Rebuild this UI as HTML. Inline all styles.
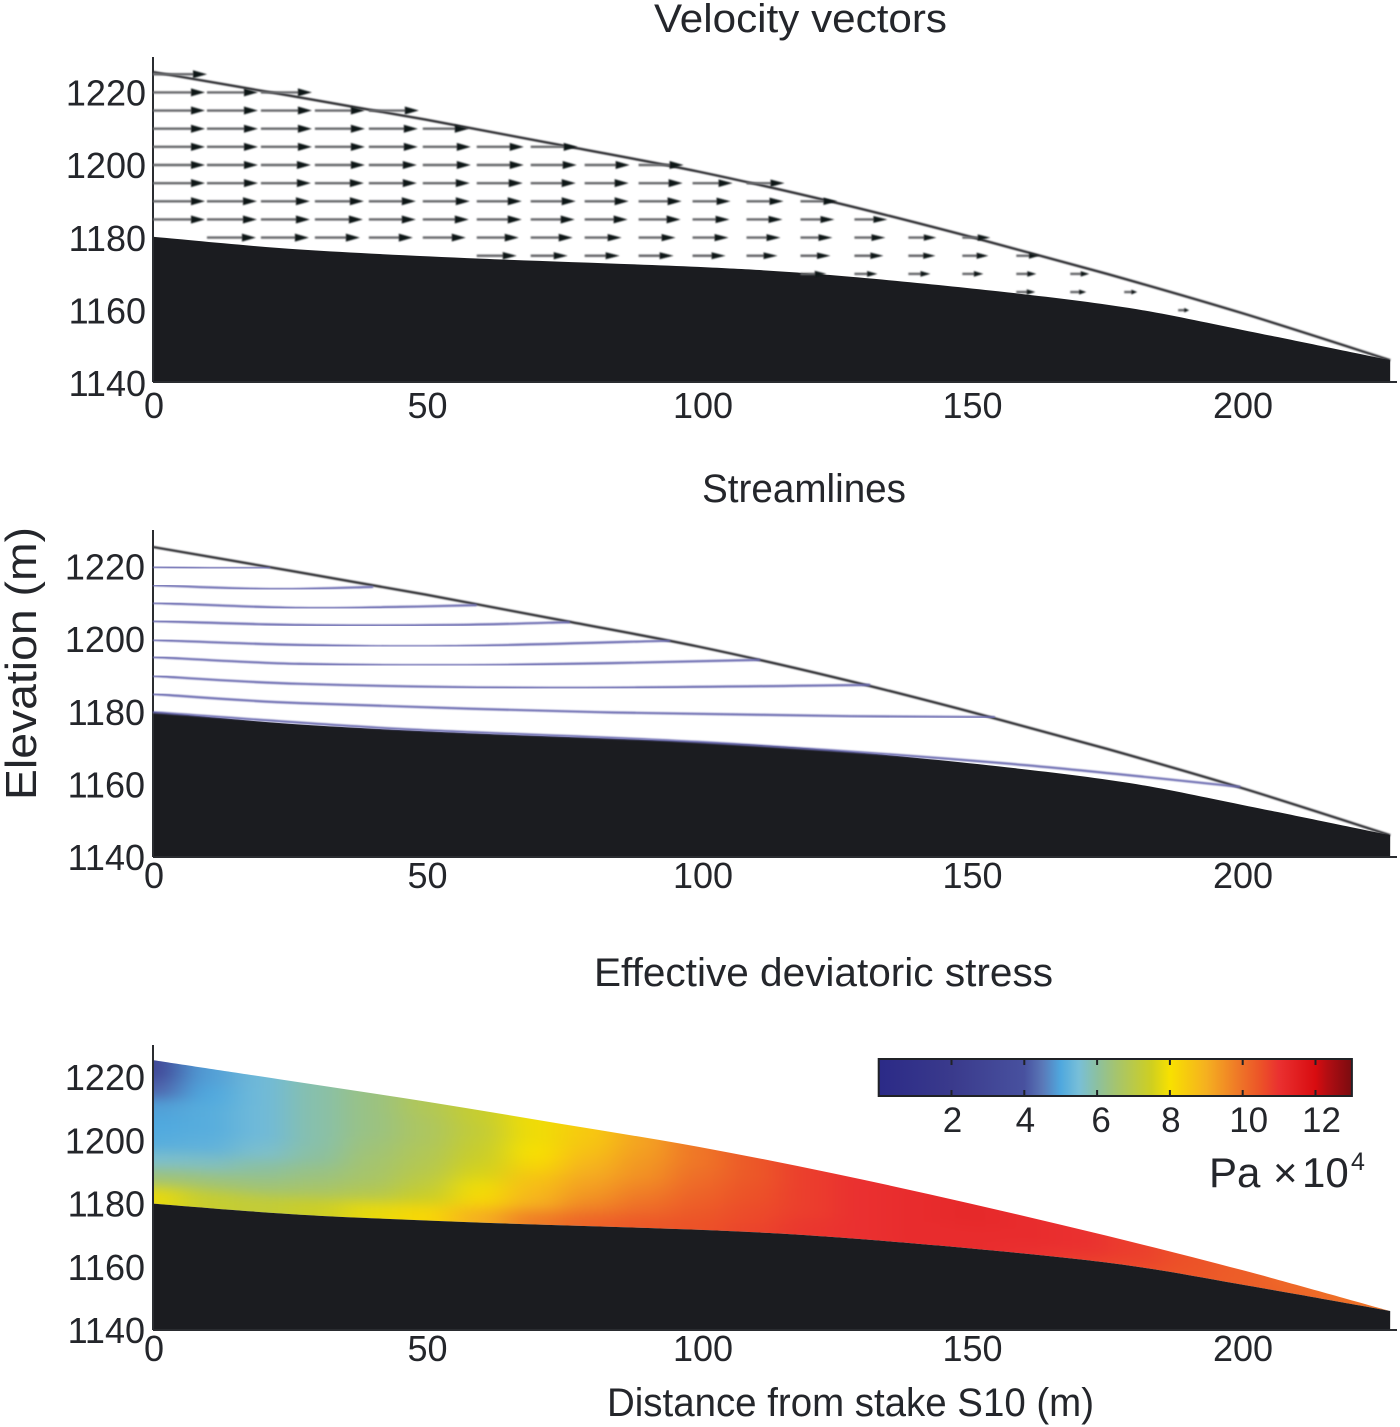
<!DOCTYPE html>
<html lang="en">
<head>
<meta charset="utf-8">
<title>Glacier flow model panels</title>
<style>
  html, body { margin: 0; padding: 0; background: #fff; }
  #figure { display: block; width: 1400px; height: 1427px; }
  text { font-family: "Liberation Sans", Arial, sans-serif; fill: #24262b; }
  .tick { font-size: 36px; }
</style>
</head>
<body>
<svg id="figure" xmlns="http://www.w3.org/2000/svg" width="1400" height="1427" viewBox="0 0 1400 1427">
  <defs>
    <filter id="soft" x="-2%" y="-2%" width="104%" height="104%"><feGaussianBlur stdDeviation="0.7"/></filter>
    <filter id="heat-blur" filterUnits="userSpaceOnUse" x="0" y="1000" width="1400" height="400" color-interpolation-filters="sRGB"><feGaussianBlur stdDeviation="17 6"/></filter>
    <linearGradient id="colorbar-gradient" x1="0" y1="0" x2="1" y2="0"></linearGradient>
    <clipPath id="ice-clip"><path id="ice-clip-path" d=""/></clipPath>
  </defs>

  <text x="654" y="32" font-size="40" textLength="293" lengthAdjust="spacingAndGlyphs">Velocity vectors</text>
  <text x="702" y="502" font-size="40" textLength="204" lengthAdjust="spacingAndGlyphs">Streamlines</text>
  <text x="594" y="986" font-size="40" textLength="459" lengthAdjust="spacingAndGlyphs">Effective deviatoric stress</text>
  <text transform="translate(36,800) rotate(-90)" font-size="44" textLength="273" lengthAdjust="spacingAndGlyphs">Elevation (m)</text>
  <text x="607" y="1416" font-size="40" textLength="487" lengthAdjust="spacingAndGlyphs">Distance from stake S10 (m)</text>

  <g id="panel-velocity"></g>
  <g id="panel-stream"></g>
  <g id="panel-stress"></g>

  <g id="colorbar"></g>
  <text y="1187" font-size="42"><tspan x="1209">Pa</tspan><tspan x="1273">×</tspan><tspan x="1302">10</tspan><tspan x="1351" dy="-17" font-size="25">4</tspan></text>
</svg>

<script>
// ---- Geometry (distance in m, elevation in m) ----
const surfaceDistance = [0, 25, 50, 75, 100, 125, 150, 175, 200, 227];
const surfaceElevation = [1225.4, 1218.9, 1212.3, 1205.2, 1198.0, 1189.5, 1180.0, 1169.8, 1158.9, 1146.0];
const bedDistance = [0, 27, 60, 100, 124, 155, 179, 201, 227];
const bedElevation = [1180, 1176.5, 1174, 1171.7, 1169.5, 1165, 1160.4, 1154, 1146];

// ---- Axis ticks ----
const xTicks = [0, 50, 100, 150, 200];
const yTicks = [1220, 1200, 1180, 1160, 1140];

// ---- Velocity vectors: one row of speeds per elevation, null = no arrow in that column ----
const vectorElevations = [1225, 1220, 1215, 1210, 1205, 1200, 1195, 1190, 1185, 1180, 1175, 1170, 1165, 1160];
const vectorColumnSpacing = 9.9;
const speeds1225 = [5.4];
const speeds1220 = [5.2, 5.1, 5.1];
const speeds1215 = [5.2, 5.1, 5.1, 5.0, 5.0];
const speeds1210 = [5.2, 5.1, 5.1, 5.0, 4.9, 4.6];
const speeds1205 = [5.2, 5.1, 5.1, 5.0, 4.9, 4.8, 4.7, 4.7];
const speeds1200 = [5.2, 5.1, 5.0, 5.0, 4.8, 4.8, 4.7, 4.6, 4.5, 4.5];
const speeds1195 = [5.2, 5.1, 5.0, 4.9, 4.8, 4.7, 4.6, 4.5, 4.4, 4.4, 4.0, 3.8];
const speeds1190 = [5.2, 5.0, 4.9, 4.9, 4.7, 4.7, 4.5, 4.5, 4.4, 4.3, 3.8, 3.7, 3.7];
const speeds1185 = [5.2, 5.0, 4.9, 4.8, 4.7, 4.6, 4.5, 4.4, 4.3, 4.2, 3.7, 3.6, 3.4, 3.3];
const speeds1180 = [null, 4.9, 4.8, 4.5, 4.4, 4.3, 4.2, 4.2, 3.7, 3.7, 3.6, 3.4, 3.2, 3.1, 2.8, 2.8];
const speeds1175 = [null, null, null, null, null, null, 4.0, 3.7, 3.5, 3.5, 3.3, 3.1, 3.0, 2.9, 2.7, 2.6, 2.3];
const speeds1170 = [null, null, null, null, null, null, null, null, null, null, null, null, 2.6, 2.3, 2.2, 2.1, 2.0, 1.9];
const speeds1165 = [null, null, null, null, null, null, null, null, null, null, null, null, null, null, null, null, 1.9, 1.6, 1.3];
const speeds1160 = [null, null, null, null, null, null, null, null, null, null, null, null, null, null, null, null, null, null, null, 1.1];
const vectorSpeeds = [speeds1225, speeds1220, speeds1215, speeds1210, speeds1205, speeds1200, speeds1195, speeds1190, speeds1185, speeds1180, speeds1175, speeds1170, speeds1165, speeds1160];

// ---- Streamlines ----
const streamDistances = [
  [0, 10.5, 21.5],
  [0, 21.5, 40.4],
  [0, 27, 45.3, 59.4],
  [0, 27, 54.5, 76.5],
  [0, 27, 54.5, 94.9],
  [0, 27, 63.6, 111.4],
  [0, 27, 73, 131.6],
  [0, 27, 82, 128, 154.5],
  [0, 45, 100, 155.5, 199.5]
];
const streamElevations = [
  [1219.9, 1219.6, 1219.6],
  [1214.9, 1213.8, 1214.4],
  [1210, 1208.6, 1208.9, 1209.4],
  [1205, 1203.9, 1203.9, 1204.7],
  [1199.8, 1198.4, 1198.1, 1199.6],
  [1195.1, 1193.2, 1192.9, 1194.3],
  [1189.9, 1187.7, 1186.6, 1187.4],
  [1184.9, 1182.4, 1179.9, 1178.8, 1178.5],
  [1179.9, 1175.3, 1171.7, 1165.9, 1159.3]
];

// ---- Stress heatmap: rows run surface to bed (fraction of depth), columns every 10 m ----
const stressColumnSpacing = 10;
const stressBand0 = [3.0, 4.9, 5.4, 5.9, 6.3, 6.8, 7.3, 7.9, 8.5, 9.2, 9.9, 10.4, 10.8, 11.0, 11.1, 11.2, 11.1, 11.0, 10.8, 10.5, 10.3, 10.1, 9.9, 9.8];
const stressBand1 = [4.2, 5.0, 5.4, 5.9, 6.3, 6.7, 7.2, 7.9, 8.6, 9.3, 9.9, 10.4, 10.8, 11.0, 11.1, 11.2, 11.1, 11.0, 10.8, 10.5, 10.3, 10.1, 9.9, 9.8];
const stressBand2 = [4.9, 5.1, 5.4, 5.9, 6.3, 6.7, 7.3, 8.0, 8.8, 9.4, 10.0, 10.4, 10.8, 11.0, 11.1, 11.2, 11.1, 11.0, 10.8, 10.5, 10.3, 10.1, 10.0, 9.9];
const stressBand3 = [5.0, 5.1, 5.4, 5.9, 6.4, 6.8, 7.4, 8.2, 9.0, 9.5, 10.1, 10.5, 10.8, 11.0, 11.1, 11.2, 11.1, 11.0, 10.8, 10.5, 10.3, 10.1, 10.0, 9.9];
const stressBand4 = [5.1, 5.2, 5.6, 6.0, 6.5, 6.9, 7.6, 8.6, 9.2, 9.7, 10.2, 10.5, 10.8, 11.0, 11.1, 11.1, 11.1, 11.0, 10.8, 10.5, 10.3, 10.1, 10.0, 9.9];
const stressBand5 = [5.6, 5.7, 6.0, 6.3, 6.6, 7.1, 7.9, 8.8, 9.4, 9.9, 10.3, 10.6, 10.8, 11.0, 11.1, 11.1, 11.1, 11.0, 10.8, 10.5, 10.3, 10.2, 10.0, 9.9];
const stressBand6 = [6.4, 6.4, 6.4, 6.6, 6.9, 7.4, 8.2, 9.0, 9.7, 10.1, 10.4, 10.6, 10.9, 11.0, 11.1, 11.1, 11.0, 10.9, 10.7, 10.5, 10.3, 10.2, 10.1, 10.0];
const stressBand7 = [7.8, 7.3, 7.2, 7.4, 7.8, 8.2, 9.0, 9.8, 10.2, 10.4, 10.5, 10.7, 10.9, 11.0, 11.1, 11.1, 11.0, 10.8, 10.6, 10.4, 10.3, 10.2, 10.1, 10.0];
const stressMatrix = [stressBand0, stressBand1, stressBand2, stressBand3, stressBand4, stressBand5, stressBand6, stressBand7];

// ---- Colour scale ----
const colorValues = [0, 2, 4, 4.5, 5, 5.5, 6, 6.5, 7.5, 8, 9, 10, 10.5, 11, 12, 12.3, 13];
const colorHexes = ['#2b2a87', '#3a3a8c', '#48519f', '#5a78b8', '#4fa8de', '#78bfd8', '#8cc0a0', '#a4c470', '#cfcf20', '#f8e100', '#f5b020', '#ee7028', '#ec5228', '#ea3030', '#d80c10', '#b50d12', '#7a0c10'];
const colorbarTicks = [2, 4, 6, 8, 10, 12];

// ---- Axis functions ----
const SVG_NS = 'http://www.w3.org/2000/svg';
function xScale(d) { return 153 + d * 5.45; }
function makeYScale(bottomPx, pxPerMetre) { return function (e) { return bottomPx - (e - 1140) * pxPerMetre; }; }
function arrowLength(speed) { return speed * 10; }
function colorbarX(v) { return 951.5 + (v - 2) * 36.4; }
function xLabelNudge(t) { return t === 100 ? 5 : t === 200 ? 0 : t === 0 ? 1 : 2; }

function make(tag, attrs, parent) {
  const el = document.createElementNS(SVG_NS, tag);
  for (const key in attrs) { el.setAttribute(key, attrs[key]); }
  parent.appendChild(el);
  return el;
}
function interp(xs, ys, x) {
  if (x <= xs[0]) return ys[0];
  for (let i = 1; i < xs.length; i++) {
    if (x <= xs[i]) return ys[i - 1] + (ys[i] - ys[i - 1]) * (x - xs[i - 1]) / (xs[i] - xs[i - 1]);
  }
  return ys[ys.length - 1];
}
function smoothPath(pts) {
  let d = 'M' + pts[0][0].toFixed(1) + ' ' + pts[0][1].toFixed(1);
  for (let i = 0; i < pts.length - 1; i++) {
    const p0 = pts[Math.max(i - 1, 0)], p1 = pts[i], p2 = pts[i + 1], p3 = pts[Math.min(i + 2, pts.length - 1)];
    const c1x = p1[0] + (p2[0] - p0[0]) / 6, c1y = p1[1] + (p2[1] - p0[1]) / 6;
    const c2x = p2[0] - (p3[0] - p1[0]) / 6, c2y = p2[1] - (p3[1] - p1[1]) / 6;
    d += 'C' + c1x.toFixed(1) + ' ' + c1y.toFixed(1) + ' ' + c2x.toFixed(1) + ' ' + c2y.toFixed(1) + ' ' + p2[0].toFixed(1) + ' ' + p2[1].toFixed(1);
  }
  return d;
}
function curvePoints(ds, es, y) { return ds.map(function (d, i) { return [xScale(d), y(es[i])]; }); }
function stressColor(v) {
  const rgb = [1, 3, 5].map(function (start) {
    const channel = colorHexes.map(function (h) { return parseInt(h.substr(start, 2), 16); });
    return Math.round(interp(colorValues, channel, v));
  });
  return 'rgb(' + rgb.join(',') + ')';
}

function bedFillPath(y) {
  const pts = curvePoints(bedDistance, bedElevation, y);
  const end = xScale(bedDistance[bedDistance.length - 1]);
  return smoothPath(pts) + 'L' + end + ' ' + y(1140) + 'L' + xScale(0) + ' ' + y(1140) + 'Z';
}

function drawFrame(panel, y, topPx, labelOffset, labelRight, xLabelOffset, showSurface) {
  if (showSurface) {
    const surf = make('path', { d: smoothPath(curvePoints(surfaceDistance, surfaceElevation, y)), fill: 'none', stroke: '#2a2b2f', 'stroke-width': 2.4, filter: 'url(#soft)' }, panel);
    
    
  }
  const bed = make('path', { d: bedFillPath(y), fill: '#1b1c20' }, panel);
  
  

  const yAxis = make('line', { x1: 153, x2: 153, y1: topPx, y2: y(1140), stroke: '#2a2c30', 'stroke-width': 2 }, panel);
  
  
  const xAxis = make('line', { x1: 153, x2: 1397, y1: y(1140), y2: y(1140), stroke: '#2a2c30', 'stroke-width': 2 }, panel);
  
  

  yTicks.forEach(function (t) {
    const label = make('text', { x: labelRight, y: y(t) + labelOffset, 'text-anchor': 'end', class: 'tick' }, panel);
    label.textContent = String(t);
    
    
  });
  xTicks.forEach(function (t) {
    const label = make('text', { x: xScale(t) + xLabelNudge(t), y: y(1140) + xLabelOffset, 'text-anchor': 'middle', class: 'tick' }, panel);
    label.textContent = String(t);
    
    
  });
}

// ---- Panel 1: velocity vectors ----
(function () {
  const panel = document.getElementById('panel-velocity');
  const y = makeYScale(382, 3.63);
  drawFrame(panel, y, 57, 14, 146, 36, true);
  const arrows = make('g', { filter: 'url(#soft)' }, panel);
  
  
  vectorSpeeds.forEach(function (row, r) {
    row.forEach(function (speed, k) {
      if (speed === null) return;
      const x0 = xScale(k * vectorColumnSpacing);
      const x1 = x0 + arrowLength(speed);
      const yy = y(vectorElevations[r]) + 0.8;
      const headLen = Math.min(14, arrowLength(speed) * 0.45);
      const headHalf = Math.min(4, 1.8 + arrowLength(speed) * 0.05);
      const shaft = make('line', { x1: x0, x2: x1 - headLen + 1, y1: yy, y2: yy, stroke: '#66676b', 'stroke-width': 2.4 }, arrows);
      
      
      const head = make('polygon', { points: (x1 - headLen) + ',' + (yy - headHalf) + ' ' + x1 + ',' + yy + ' ' + (x1 - headLen) + ',' + (yy + headHalf), fill: '#111214' }, arrows);
      
      
    });
  });
})();

// ---- Panel 2: streamlines ----
(function () {
  const panel = document.getElementById('panel-stream');
  const y = makeYScale(857, 3.63);
  drawFrame(panel, y, 530, 13, 145, 31, true);
  streamDistances.forEach(function (ds, i) {
    const line = make('path', { d: smoothPath(curvePoints(ds, streamElevations[i], y)), fill: 'none', stroke: '#6a6ab0', 'stroke-width': 2.2, filter: 'url(#soft)' }, panel);
    
    
  });
})();

// ---- Panel 3: stress heatmap ----
(function () {
  const panel = document.getElementById('panel-stress');
  const y = makeYScale(1330, 3.16);
  const surfPts = curvePoints(surfaceDistance, surfaceElevation, y);
  const bedPts = curvePoints(bedDistance, bedElevation, y).reverse();
  document.getElementById('ice-clip-path').setAttribute('d', smoothPath(surfPts) + smoothPath(bedPts).replace('M', 'L') + 'Z');

  const clip = make('g', { 'clip-path': 'url(#ice-clip)' }, panel);
  
  
  const blur = make('g', { filter: 'url(#heat-blur)' }, clip);
  const bands = stressMatrix.length;
  stressMatrix.forEach(function (row, b) {
    row.forEach(function (value, k) {
      const dL = (k - 0.5) * stressColumnSpacing, dR = (k + 0.5) * stressColumnSpacing;
      const pad = function (d, frac) {
        const s = y(interp(surfaceDistance, surfaceElevation, d));
        const g = y(interp(bedDistance, bedElevation, d));
        if (frac === 0) return s - 30;
        if (frac === 1) return g + 30;
        return s + (g - s) * frac;
      };
      const xL = k === 0 ? xScale(0) - 60 : xScale(dL);
      const xR = k === row.length - 1 ? xScale(dR) + 60 : xScale(dR);
      const pts = [
        [xL, pad(dL, b / bands)], [xR, pad(dR, b / bands)],
        [xR, pad(dR, (b + 1) / bands)], [xL, pad(dL, (b + 1) / bands)]
      ].map(function (p) { return p[0].toFixed(1) + ',' + p[1].toFixed(1); }).join(' ');
      const color = stressColor(value);
      const cell = make('polygon', { points: pts, fill: color, stroke: color, 'stroke-width': 1 }, blur);
      
      
    });
  });
  drawFrame(panel, y, 1045, 13, 145, 31, false);
})();

// ---- Colour bar ----
(function () {
  const bar = document.getElementById('colorbar');
  const grad = document.getElementById('colorbar-gradient');
  colorValues.forEach(function (v, i) {
    make('stop', { offset: (v / 13).toFixed(4), 'stop-color': colorHexes[i] }, grad);
  });
  const rect = make('rect', { x: colorbarX(0), y: 1059, width: colorbarX(13) - colorbarX(0), height: 37, fill: 'url(#colorbar-gradient)', stroke: '#202226', 'stroke-width': 2 }, bar);
  
  
  colorbarTicks.forEach(function (t) {
    const x = colorbarX(t);
    const top = make('line', { x1: x, x2: x, y1: 1059, y2: 1065, stroke: '#202226', 'stroke-width': 2 }, bar);
    
    
    const bottom = make('line', { x1: x, x2: x, y1: 1090, y2: 1096, stroke: '#202226', 'stroke-width': 2 }, bar);
    
    
    const label = make('text', { x: x + (t >= 10 ? 6 : t === 6 ? 4 : 1), y: 1132, 'text-anchor': 'middle', 'font-size': 35 }, bar);
    label.textContent = String(t);
    
    
  });
})();
</script>
</body>
</html>
